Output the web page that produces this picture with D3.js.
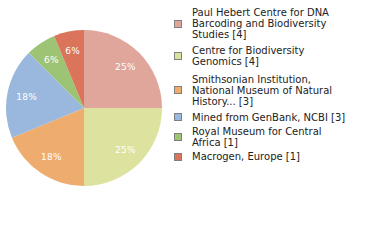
<!DOCTYPE html>
<html>
<head>
<meta charset="utf-8">
<script src="https://cdn.jsdelivr.net/npm/d3@7"></script>
<style>
  body { margin: 0; background: #fff; }
  svg { display: block; }
</style>
</head>
<body>
<svg id="chart" width="380" height="240"></svg>
<script>
  let labels = [
    ['Paul Hebert Centre for DNA', 'Barcoding and Biodiversity', 'Studies [4]'],
    ['Centre for Biodiversity', 'Genomics [4]'],
    ['Smithsonian Institution,', 'National Museum of Natural', 'History... [3]'],
    ['Mined from GenBank, NCBI [3]'],
    ['Royal Museum for Central', 'Africa [1]'],
    ['Macrogen, Europe [1]']
  ]
  let counts = [4, 4, 3, 3, 1, 1]
  let colors = ['#e0a59b', '#dde29e', '#eeac6f', '#9ab8de', '#9dc474', '#da755b']

  let svg = d3.select('#chart')
  let total = d3.sum(counts)

  let cx = 84
  let cy = 108
  let r = 78

  let pie = d3.pie().sort(null).value(function (d) { return d })
  let arc = d3.arc().innerRadius(0).outerRadius(r)
  let labelArc = d3.arc().innerRadius(r * 0.75).outerRadius(r * 0.75)

  let g = svg.append('g').attr('transform', 'translate(' + cx + ',' + cy + ')')
  let arcs = pie(counts)

  // сектора
  g.selectAll('path')
    .data(arcs)
    .enter()
    .append('path')
    .attr('d', arc)
    .attr('fill', function (d, i) { return colors[i] })

  // проценты
  g.selectAll('text')
    .data(arcs)
    .enter()
    .append('text')
    .attr('transform', function (d) { return 'translate(' + labelArc.centroid(d) + ')' })
    .attr('text-anchor', 'middle')
    .attr('dy', '0.35em')
    .attr('fill', '#fff')
    .style('font', '9px "DejaVu Sans"')
    .style('letter-spacing', '0.3px')
    .text(function (d) { return Math.floor(d.data / total * 100) + '%' })

  // легенда: базовые линии первых строк
  let legendY = [16, 53.5, 82.5, 120.5, 134.5, 160]
  let lineH = 11
  let legend = svg.append('g')
  labels.forEach(function (lines, i) {
    let top = legendY[i]
    let mid = top + (lines.length - 1) * lineH / 2 - 3.7
    legend.append('rect')
      .attr('x', 174.5)
      .attr('y', Math.round(mid - 3.5) + 0.5)
      .attr('width', 7)
      .attr('height', 7)
      .attr('fill', colors[i])
      .attr('stroke', '#808080')
      .attr('stroke-width', 1)
    lines.forEach(function (t, j) {
      legend.append('text')
        .attr('x', 192)
        .attr('y', top + j * lineH)
        .attr('fill', '#222')
        .style('font', '10px "DejaVu Sans"')
        .text(t)
    })
  })
</script>
</body>
</html>
